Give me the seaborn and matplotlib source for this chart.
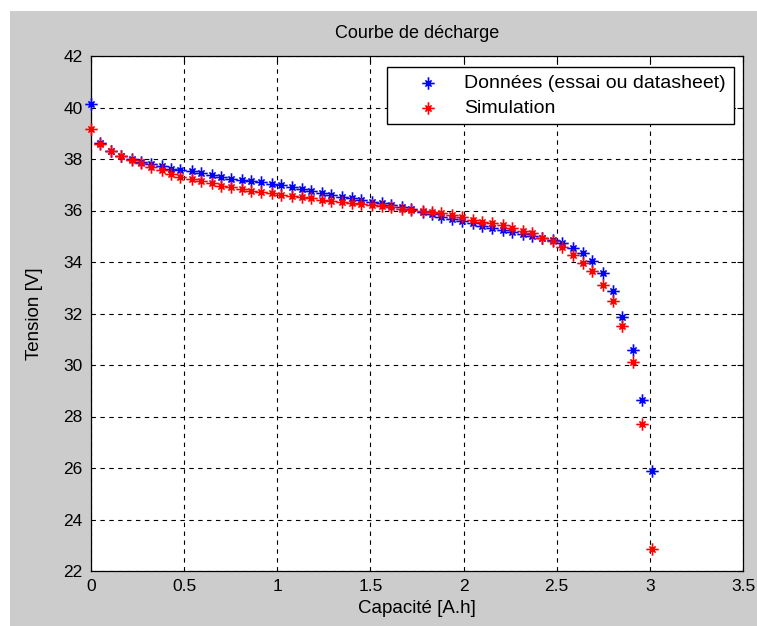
import matplotlib
matplotlib.use("Agg")
import matplotlib.pyplot as plt
import seaborn as sns
from matplotlib.path import Path
from matplotlib.patches import Rectangle

# --- data ---
capacite = [0.00, 0.05, 0.11, 0.16, 0.22, 0.27, 0.32, 0.38, 0.43, 0.48,
            0.54, 0.59, 0.65, 0.70, 0.75, 0.81, 0.86, 0.91, 0.97, 1.02,
            1.08, 1.13, 1.18, 1.24, 1.29, 1.35, 1.40, 1.45, 1.51, 1.56,
            1.61, 1.67, 1.72, 1.78, 1.83, 1.88, 1.94, 1.99, 2.05, 2.10,
            2.15, 2.21, 2.26, 2.32, 2.37, 2.42, 2.48, 2.53, 2.59, 2.64,
            2.69, 2.75, 2.80, 2.85, 2.91, 2.96, 3.01]

tension_donnees = [40.15, 38.62, 38.30, 38.10, 38.00, 37.90, 37.80, 37.72, 37.62, 37.57,
                   37.52, 37.46, 37.36, 37.30, 37.24, 37.18, 37.13, 37.09, 37.04, 36.98,
                   36.90, 36.83, 36.76, 36.69, 36.62, 36.54, 36.47, 36.41, 36.34, 36.29,
                   36.22, 36.14, 36.05, 35.95, 35.86, 35.75, 35.66, 35.59, 35.50, 35.41,
                   35.33, 35.25, 35.18, 35.09, 35.01, 34.93, 34.85, 34.75, 34.55, 34.35,
                   34.03, 33.58, 32.88, 31.88, 30.60, 28.65, 25.90]

tension_simulation = [39.18, 38.57, 38.31, 38.13, 37.97, 37.83, 37.68, 37.56, 37.42, 37.30,
                      37.24, 37.15, 37.06, 36.96, 36.90, 36.82, 36.77, 36.73, 36.67, 36.61,
                      36.56, 36.51, 36.47, 36.42, 36.37, 36.34, 36.30, 36.25, 36.20, 36.17,
                      36.12, 36.07, 36.02, 35.98, 35.95, 35.89, 35.83, 35.75, 35.65, 35.57,
                      35.52, 35.44, 35.32, 35.22, 35.13, 34.94, 34.80, 34.58, 34.27, 33.96,
                      33.64, 33.10, 32.48, 31.52, 30.10, 27.72, 22.85]

x_ticks = [0, 0.5, 1, 1.5, 2, 2.5, 3, 3.5]
x_tick_labels = ["0", "0.5", "1", "1.5", "2", "2.5", "3", "3.5"]
y_ticks = [22, 24, 26, 28, 30, 32, 34, 36, 38, 40, 42]

# --- style (matlab-ish) ---
sns.set_style("white")
plt.rcParams['font.family'] = ['Liberation Sans', 'DejaVu Sans']
for k in ["text.color", "axes.labelcolor", "xtick.color", "ytick.color"]:
    plt.rcParams[k] = "black"

W, H = 757, 626
fig = plt.figure(figsize=(W / 100, H / 100), dpi=100)
fig.patch.set_facecolor("white")
# grey figure panel
fig.patches.append(Rectangle((10 / W, 0), 1, (H - 11) / H, transform=fig.transFigure,
                             facecolor="#cccccc", edgecolor="none", zorder=-10))

ax = fig.add_axes([91 / W, (H - 571) / H, 652 / W, 515 / H])
ax.set_facecolor("white")

# matlab '*' marker: a plus with short diagonals
star = Path([(-1, 0), (1, 0), (0, -1), (0, 1),
             (-0.5, -0.5), (0.5, 0.5), (-0.5, 0.5), (0.5, -0.5)],
            [Path.MOVETO, Path.LINETO] * 4)

for yy, col, lab in [(tension_donnees, "blue", "Données (essai ou datasheet)"),
                     (tension_simulation, "red", "Simulation")]:
    sns.scatterplot(x=capacite, y=yy, marker=star, s=80, color=col,
                    edgecolor=col, linewidth=1.2, label=lab,
                    ax=ax, zorder=3, clip_on=False)

ax.set_xlim(0, 3.5)
ax.set_ylim(22, 42)
ax.set_xticks(x_ticks)
ax.set_xticklabels(x_tick_labels)
ax.set_yticks(y_ticks)
ax.tick_params(direction="in", length=4, width=0.8, top=True, right=True,
               labelsize=12.5, pad=6, colors="black")
ax.grid(True, color="black", linestyle=(0, (4, 4)), linewidth=0.8, zorder=4)
ax.set_axisbelow(False)
for sp in ax.spines.values():
    sp.set_color("black")
    sp.set_linewidth(0.9)

ax.set_title("Courbe de décharge", fontsize=13, pad=13)
ax.set_xlabel("Capacité [A.h]", fontsize=13.5, labelpad=4)
ax.set_ylabel("Tension [V]", fontsize=13.5, labelpad=15)

leg = ax.legend(loc="upper right", bbox_to_anchor=(0.986, 0.979), borderaxespad=0,
                fancybox=False, framealpha=1, edgecolor="black", scatterpoints=1,
                prop={"family": ["Liberation Sans", "DejaVu Sans"], "size": 14},
                handlelength=3.4, handletextpad=0.2, borderpad=0.4, labelspacing=0.35)
leg.get_frame().set_linewidth(1.0)

fig.savefig("out.png", dpi=100)
